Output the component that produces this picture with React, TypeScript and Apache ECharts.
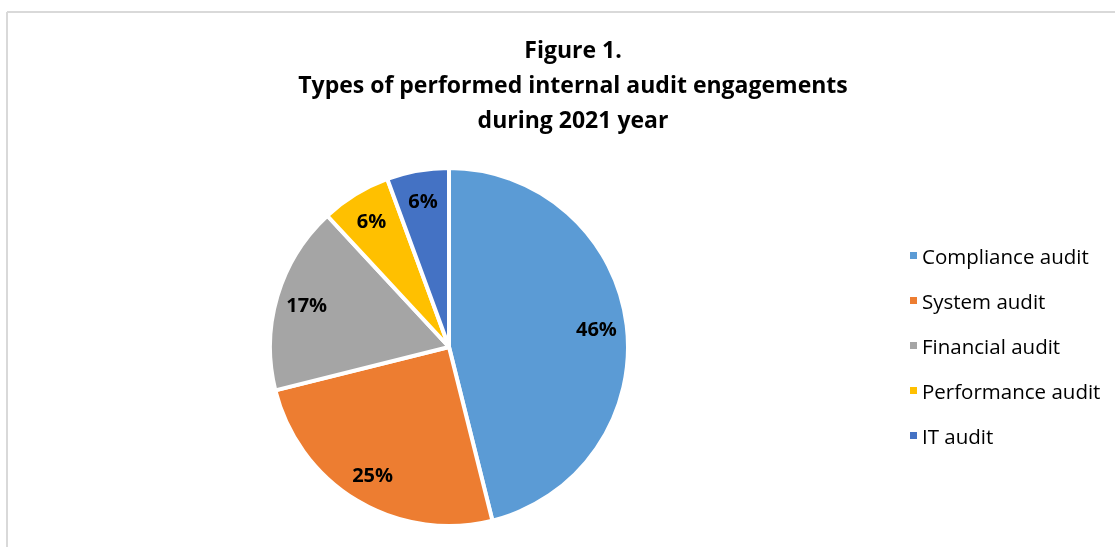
import React, { useEffect, useRef } from "react";
import * as echarts from "echarts";

const categories = ["Compliance audit", "System audit", "Financial audit", "Performance audit", "IT audit"];
const values = [46.1, 25.0, 17.0, 6.3, 5.6];
const colors = ["#5B9BD5", "#ED7D31", "#A5A5A5", "#FFC000", "#4472C4"];
const titleLines = ["Figure 1.", "Types of performed internal audit engagements", "during 2021 year"];

export default function App() {
  const ref = useRef<HTMLDivElement>(null);
  useEffect(() => {
    if (!ref.current) return;
    const chart = echarts.init(ref.current, undefined, { renderer: "svg" });
    const data = categories.map((name, i) => ({ name, value: values[i], itemStyle: { color: colors[i] } }));
    const font = "'Open Sans', sans-serif";
    chart.setOption({
      animation: false,
      title: {
        text: titleLines.join("\n"),
        left: 568,
        textAlign: "center",
        top: 26,
        textStyle: { fontFamily: font, fontWeight: "bold", fontSize: 23, lineHeight: 35, color: "#000" },
      },
      legend: {
        orient: "vertical",
        left: 903,
        top: 240,
        icon: "rect",
        itemWidth: 9,
        itemHeight: 9,
        itemGap: 24,
        data: categories,
        textStyle: { fontFamily: font, fontSize: 20.5, lineHeight: 21, color: "#000", padding: [0, 0, 0, -1] },
      },
      graphic: [
        { type: "line", shape: { x1: 7, y1: 12, x2: 1115, y2: 12 }, style: { stroke: "#d9d9d9", lineWidth: 2 } },
        { type: "line", shape: { x1: 7, y1: 12, x2: 7, y2: 547 }, style: { stroke: "#d9d9d9", lineWidth: 2 } },
      ],
      series: [
        {
          type: "pie",
          center: [449, 347],
          radius: [0, 179],
          startAngle: 90,
          clockwise: true,
          data,
          label: { show: false },
          labelLine: { show: false },
          itemStyle: { borderColor: "#fff", borderWidth: 4 },
          emphasis: { disabled: true },
        },
        {
          type: "pie",
          center: [449, 347],
          radius: [112, 179],
          startAngle: 90,
          clockwise: true,
          silent: true,
          data: data.map((d) => ({ ...d, itemStyle: { color: "rgba(0,0,0,0)" } })),
          itemStyle: { borderWidth: 0 },
          label: {
            show: true,
            position: "inside",
            formatter: (p: any) => Math.round(p.percent) + "%",
            fontFamily: font,
            fontWeight: "bold",
            fontSize: 20,
            color: "#000",
          },
          labelLine: { show: false },
          emphasis: { disabled: true },
        },
      ],
    });
    return () => chart.dispose();
  }, []);
  return <div ref={ref} style={{ position: "fixed", left: 0, top: 0, width: 1115, height: 547 }} />;
}
